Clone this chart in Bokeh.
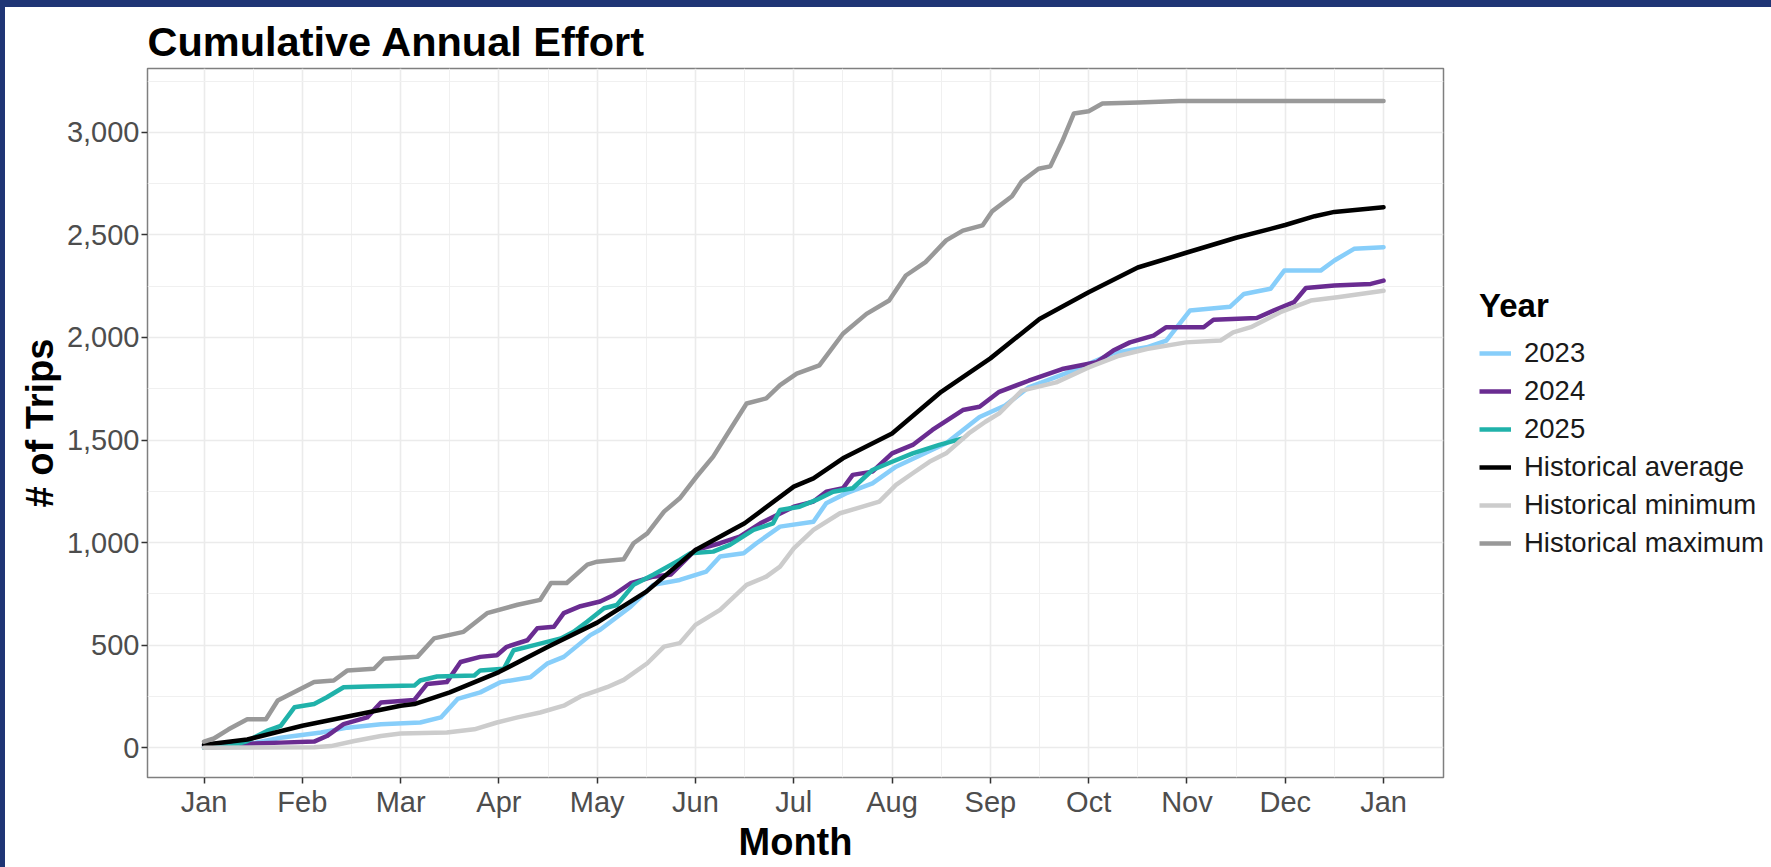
from bokeh.plotting import figure
from bokeh.layouts import row
from bokeh.models import FixedTicker, Range1d, Legend, LegendItem, NumeralTickFormatter
from bokeh.embed import file_html
from bokeh.resources import INLINE

# ---------------- data (x = months since 1 Jan, y = cumulative trips) ----------------
title_text = "Cumulative Annual Effort"
month_labels = ["Jan", "Feb", "Mar", "Apr", "May", "Jun", "Jul",
                "Aug", "Sep", "Oct", "Nov", "Dec", "Jan"]
y_ticks = [0, 500, 1000, 1500, 2000, 2500, 3000]

x_2023 = [0.0, 0.44, 0.78, 1.19, 1.46, 1.8, 2.2, 2.41, 2.58, 2.81, 3.02, 3.32, 3.49, 3.66,
          3.93, 4.03, 4.34, 4.57, 4.84, 5.11, 5.25, 5.49, 5.62, 5.86, 6.2, 6.33, 6.53, 6.8,
          7.04, 7.55, 7.89, 8.15, 8.39, 8.84, 9.25, 9.59, 9.79, 10.03, 10.44, 10.58, 10.85,
          10.99, 11.36, 11.5, 11.7, 12.0]
y_2023 = [0, 16, 49, 74, 98, 115, 123, 148, 238, 270, 320, 344, 410, 443,
          549, 575, 688, 794, 818, 859, 932, 948, 997, 1078, 1102, 1192, 1240, 1289,
          1370, 1484, 1612, 1668, 1757, 1838, 1923, 1952, 1984, 2131, 2150, 2212, 2237,
          2326, 2326, 2375, 2432, 2440]

x_2024 = [0.0, 0.44, 0.78, 1.12, 1.25, 1.42, 1.66, 1.8, 2.14, 2.27, 2.47, 2.61, 2.81, 2.98,
          3.08, 3.29, 3.39, 3.56, 3.66, 3.83, 4.03, 4.17, 4.34, 4.57, 4.75, 5.0, 5.25, 5.45,
          5.66, 6.0, 6.2, 6.33, 6.5, 6.6, 6.8, 7.0, 7.21, 7.41, 7.72, 7.89, 8.09, 8.39, 8.73,
          9.08, 9.25, 9.42, 9.66, 9.79, 10.17, 10.27, 10.71, 10.88, 11.09, 11.21, 11.5,
          11.87, 12.0]
y_2024 = [8, 20, 25, 30, 57, 115, 148, 221, 233, 311, 320, 418, 443, 451,
          492, 524, 582, 590, 656, 690, 713, 745, 802, 834, 845, 964, 997, 1029,
          1094, 1175, 1200, 1248, 1265, 1330, 1346, 1435, 1476, 1549, 1646, 1662, 1735, 1789, 1846,
          1879, 1936, 1976, 2009, 2050, 2050, 2086, 2095, 2131, 2172, 2241, 2253,
          2261, 2277]

x_2025 = [0.0, 0.27, 0.44, 0.64, 0.78, 0.92, 1.12, 1.25, 1.42, 1.66, 2.14, 2.2, 2.37, 2.75,
          2.81, 3.05, 3.15, 3.36, 3.63, 3.76, 3.9, 4.07, 4.2, 4.37, 4.57, 4.84, 4.95, 5.18,
          5.35, 5.59, 5.79, 5.86, 6.06, 6.23, 6.4, 6.6, 6.8, 7.0, 7.21, 7.48, 7.72]
y_2025 = [0, 8, 33, 82, 107, 197, 213, 246, 295, 298, 303, 328, 347, 352,
          377, 385, 475, 500, 533, 565, 615, 680, 696, 794, 843, 916, 948, 956,
          989, 1062, 1094, 1159, 1175, 1208, 1248, 1265, 1354, 1394, 1435, 1476, 1508]

x_avg = [0.0, 0.44, 1.0, 1.5, 2.0, 2.14, 2.5, 3.0, 3.5, 4.0, 4.5, 5.0, 5.5, 6.0, 6.2, 6.5,
         7.0, 7.5, 8.0, 8.5, 9.0, 9.5, 10.0, 10.5, 11.0, 11.3, 11.5, 12.0]
y_avg = [15, 40, 107, 156, 205, 213, 270, 369, 492, 610, 761, 964, 1094, 1273, 1313, 1411,
         1532, 1735, 1898, 2090, 2220, 2341, 2414, 2486, 2548, 2591, 2612, 2635]

x_min = [0.0, 1.12, 1.29, 1.53, 1.8, 2.0, 2.47, 2.75, 2.98, 3.19, 3.42, 3.66, 3.83, 4.0,
         4.1, 4.27, 4.51, 4.68, 4.84, 5.0, 5.25, 5.52, 5.72, 5.86, 6.0, 6.2, 6.47, 6.7,
         6.87, 7.04, 7.21, 7.38, 7.55, 7.78, 7.95, 8.09, 8.32, 8.67, 9.0, 9.31, 9.59, 9.99,
         10.34, 10.47, 10.65, 10.95, 11.26, 11.53, 12.0]
y_min = [0, 2, 8, 33, 57, 69, 74, 90, 123, 148, 172, 205, 250, 279,
         295, 331, 412, 493, 510, 599, 672, 794, 834, 883, 972, 1062, 1143, 1175,
         1200, 1281, 1338, 1394, 1435, 1532, 1589, 1630, 1741, 1781, 1854, 1911, 1944, 1976,
         1985, 2025, 2050, 2123, 2180, 2196, 2228]

x_max = [0.0, 0.1, 0.25, 0.44, 0.63, 0.75, 0.95, 1.12, 1.32, 1.46, 1.73, 1.83, 2.17, 2.34,
         2.64, 2.88, 3.19, 3.42, 3.53, 3.69, 3.90, 4.0, 4.27, 4.37, 4.51, 4.68, 4.84, 5.01,
         5.18, 5.35, 5.52, 5.72, 5.86, 6.03, 6.26, 6.50, 6.74, 6.97, 7.14, 7.34, 7.55, 7.72,
         7.92, 8.02, 8.22, 8.32, 8.49, 8.61, 8.73, 8.85, 9.0, 9.14, 9.51, 9.92, 12.0]
y_max = [30, 45, 90, 139, 139, 230, 279, 320, 328, 377, 385, 434, 443, 533,
         565, 656, 697, 721, 803, 803, 893, 907, 919, 997, 1045, 1151, 1216, 1321,
         1419, 1549, 1678, 1703, 1768, 1824, 1864, 2018, 2115, 2180, 2302, 2367, 2473, 2521,
         2546, 2616, 2688, 2761, 2822, 2834, 2955, 3092, 3103, 3140, 3145, 3152, 3152]

series_names = ["2023", "2024", "2025", "Historical average", "Historical minimum", "Historical maximum"]
series_colors = ["#87CEFA", "#6A2C91", "#20B2AA", "#000000", "#CCCCCC", "#999999"]

FONT = "Liberation Sans"
MAIN_W, FIG_H, LEG_W = 1440, 860, 326
B_LEFT, B_RIGHT, B_TOP, B_BOTTOM = 142, 2, 61, 90

# ---------------- main plot ----------------
p = figure(width=MAIN_W, height=FIG_H, output_backend="svg", toolbar_location=None,
           x_range=Range1d(-0.575, 12.61), y_range=Range1d(-145, 3311),
           min_border_left=B_LEFT, min_border_right=B_RIGHT,
           min_border_top=B_TOP, min_border_bottom=B_BOTTOM,
           background_fill_color="white", border_fill_color="white")

p.title.text = title_text
p.title.text_font = FONT
p.title.text_font_size = "41.5px"
p.title.text_font_style = "bold"
p.title.text_color = "black"
p.title.vertical_align = "top"
p.title.standoff = 4

p.outline_line_color = "#7F7F7F"
p.outline_line_width = 1.5

p.xaxis.ticker = FixedTicker(ticks=list(range(13)), minor_ticks=[i + 0.5 for i in range(12)])
p.yaxis.ticker = FixedTicker(ticks=y_ticks, minor_ticks=[250, 750, 1250, 1750, 2250, 2750, 3250])
for g in (p.xgrid, p.ygrid):
    g.grid_line_color = "#EBEBEB"
    g.grid_line_width = 1.6
    g.minor_grid_line_color = "#F0F0F0"
    g.minor_grid_line_width = 1.0

p.xaxis.major_label_overrides = {i: lab for i, lab in enumerate(month_labels)}
p.yaxis.formatter = NumeralTickFormatter(format="0,0")

for ax in (p.xaxis, p.yaxis):
    ax.axis_line_color = None
    ax.major_tick_out = 6
    ax.major_tick_in = 0
    ax.minor_tick_out = 0
    ax.minor_tick_in = 0
    ax.major_tick_line_color = "#333333"
    ax.major_tick_line_width = 1.5
    ax.major_label_text_font = FONT
    ax.major_label_text_font_size = "29px"
    ax.major_label_text_color = "#4D4D4D"
    ax.axis_label_text_font = FONT
    ax.axis_label_text_font_size = "38px"
    ax.axis_label_text_font_style = "bold"
    ax.axis_label_text_color = "black"

p.xaxis.axis_label = "Month"
p.yaxis.axis_label = "# of Trips"
p.xaxis.major_label_standoff = 2
p.xaxis.axis_label_standoff = 0
p.yaxis.major_label_standoff = 2
p.yaxis.axis_label_standoff = 3

xs = [x_2023, x_2024, x_2025, x_avg, x_min, x_max]
ys = [y_2023, y_2024, y_2025, y_avg, y_min, y_max]
for x, y, c in zip(xs, ys, series_colors):
    p.line(x, y, line_color=c, line_width=4.5, line_join="round", line_cap="round")

# ---------------- legend panel (own figure, frame aligned with the main frame) ----------------
leg = figure(width=LEG_W, height=FIG_H, output_backend="svg", toolbar_location=None,
             x_range=Range1d(0, 1), y_range=Range1d(0, 1),
             x_axis_location=None, y_axis_location=None,
             min_border_left=0, min_border_right=0, min_border_top=B_TOP, min_border_bottom=B_BOTTOM,
             outline_line_color=None, background_fill_color="white", border_fill_color="white")
leg.xgrid.visible = False
leg.ygrid.visible = False
# invisible proxy lines (outside the ranges) that carry each series' style for the legend keys
proxies = [leg.line(x=[-2, -1], y=[-2, -2], line_color=c, line_width=4.5) for c in series_colors]
items = [LegendItem(label=n, renderers=[r]) for n, r in zip(series_names, proxies)]
legend = Legend(items=items, location=(34, 218), ncols=1, title="Year",
                title_text_font=FONT, title_text_font_size="33px", title_text_font_style="bold",
                title_text_color="black", title_standoff=12,
                label_text_font=FONT, label_text_font_size="27.5px", label_text_color="#1A1A1A",
                glyph_width=32, glyph_height=30, label_height=30, label_standoff=13,
                spacing=6, padding=0, margin=0,
                border_line_color=None, background_fill_alpha=0)
leg.add_layout(legend)

layout = row(p, leg, spacing=0)

html = file_html(layout, INLINE, title=title_text)
style = ("<style>html, body {margin:0 !important; padding:0 !important;} "
         "body {background-color:white !important; box-sizing:border-box !important; "
         "border-top:7px solid #1F3575; border-left:5px solid #1F3575;}</style>")
html = html.replace("</head>", style + "</head>", 1)
open("out.html", "w").write(html)
